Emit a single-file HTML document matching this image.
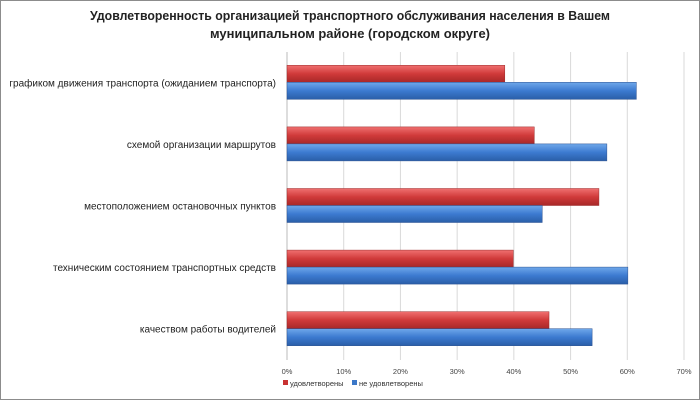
<!DOCTYPE html>
<html><head><meta charset="utf-8"><style>
body{margin:0;background:#fff}
svg{display:block;font-family:"Liberation Sans",sans-serif}
</style></head><body>
<svg width="700" height="400" viewBox="0 0 700 400">
<defs>
<linearGradient id="gr" x1="0" y1="0" x2="0" y2="1"><stop offset="0" stop-color="#f07070"/><stop offset="0.5" stop-color="#d03a3a"/><stop offset="1" stop-color="#a82828"/></linearGradient>
<linearGradient id="gb" x1="0" y1="0" x2="0" y2="1"><stop offset="0" stop-color="#6fa8ea"/><stop offset="0.5" stop-color="#3c7ad0"/><stop offset="1" stop-color="#2a5ea8"/></linearGradient>
</defs>
<rect x="0.5" y="0.5" width="699" height="399" fill="#fff" stroke="#8c8c8c"/>
<text x="350" y="20" text-anchor="middle" font-size="13" font-weight="bold" fill="#222" textLength="520" lengthAdjust="spacingAndGlyphs">Удовлетворенность организацией транспортного обслуживания населения в Вашем</text>
<text x="350" y="38" text-anchor="middle" font-size="13" font-weight="bold" fill="#222" textLength="280" lengthAdjust="spacingAndGlyphs">муниципальном районе (городском округе)</text>
<g id="grid"></g><g id="bars"></g><g id="labels"></g>
<g>
<rect x="283" y="380" width="5" height="5" fill="#c83232"/>
<text x="290" y="386" font-size="7.5" fill="#333">удовлетворены</text>
<rect x="352" y="380" width="5" height="5" fill="#3c78c8"/>
<text x="359" y="386" font-size="7.5" fill="#333">не удовлетворены</text>
</g>
</svg>
<script>
const categories=["графиком движения транспорта (ожиданием транспорта)","схемой организации маршрутов","местоположением остановочных пунктов","техническим состоянием транспортных средств","качеством работы водителей"];
const satisfied=[38.4,43.6,55.0,39.9,46.2];
const unsatisfied=[61.6,56.4,45.0,60.1,53.8];
const ticks=[0,10,20,30,40,50,60,70];
const NS="http://www.w3.org/2000/svg";
const x0=287,x1=684,yTop=52,yBot=360;
const xs=v=>x0+(v/70)*(x1-x0);
const band=(yBot-yTop)/categories.length;
function mk(t,a,p){const e=document.createElementNS(NS,t);for(const k in a)e.setAttribute(k,a[k]);p.appendChild(e);return e;}
const grid=document.getElementById('grid'),bars=document.getElementById('bars'),labels=document.getElementById('labels');
ticks.forEach(t=>{
 const l=mk('line',{x1:xs(t),x2:xs(t),y1:yTop,y2:yBot,stroke:'#d9d9d9','stroke-width':1},grid);
 
 
 const tx=mk('text',{x:xs(t),y:374,'text-anchor':'middle','font-size':7.5,fill:'#444'},labels);
 tx.textContent=t+'%';
 
 
});
const ax=mk('line',{x1:x0,x2:x0,y1:yTop,y2:yBot,stroke:'#bbb'},grid);


categories.forEach((c,i)=>{
 const cy=yTop+band*i+band/2;
 const r=mk('rect',{x:x0,y:cy-17.5,width:xs(satisfied[i])-x0,height:17,fill:'url(#gr)',stroke:'#9a2a2a','stroke-width':0.5},bars);
 
 
 const b=mk('rect',{x:x0,y:cy-0.5,width:xs(unsatisfied[i])-x0,height:17,fill:'url(#gb)',stroke:'#2a5090','stroke-width':0.5},bars);
 
 
 const t=mk('text',{x:276,y:cy+3.5,'text-anchor':'end','font-size':10,fill:'#222'},labels);
 t.textContent=c;
 
 
});
</script>
</body></html>
